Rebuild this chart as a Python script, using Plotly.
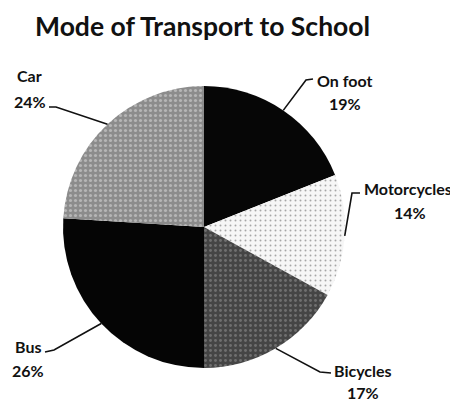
import math
import plotly.graph_objects as go

# ---- data ----
categories = ["On foot", "Motorcycles", "Bicycles", "Bus", "Car"]
values = [19, 14, 17, 26, 24]
title_text = "Mode of Transport to School"

# ---- styles ----
colors = ["#060606", "#f6f6f6", "#454545", "#050505", "#8c8c8c"]
pattern_fg = ["#060606", "#555555", "#9a9a9a", "#050505", "#e0e0e0"]
pattern_shape = ["", ".", ".", "", "."]
pattern_solidity = [0.2, 0.12, 0.25, 0.2, 0.3]
OFF = 8                      # page body margin
W, H = 458 - OFF, 402 - OFF  # figure size
CX, CY, R = 204, 227, 141    # pie centre / radius in window pixels

# label placement (window-pixel centres of name and percent lines, plus elbow points)
label_layout = {
    "On foot":     {"name": (344, 80),  "pct": (345, 103), "path": [(313, 79), (306, 80)]},
    "Motorcycles": {"name": (408, 188), "pct": (410, 212), "path": [(360, 193), (352, 193)]},
    "Bicycles":    {"name": (363, 370), "pct": (363, 392), "path": [(331, 373), (320, 372)]},
    "Bus":         {"name": (28, 346),  "pct": (28, 370),  "path": [(45, 352), (54, 350)]},
    "Car":         {"name": (29, 76),   "pct": (30, 101),  "path": [(49, 107), (56, 107)]},
}

def px(x):
    return (x - OFF) / W

def py(y):
    return 1 - (y - OFF) / H

fig = go.Figure(
    go.Pie(
        labels=categories,
        values=values,
        sort=False,
        direction="clockwise",
        rotation=0,
        marker=dict(
            colors=colors,
            line=dict(width=0),
            pattern=dict(shape=pattern_shape, fgcolor=pattern_fg, bgcolor=colors,
                         solidity=pattern_solidity, size=5, fillmode="overlay"),
        ),
        textinfo="none",
        hoverinfo="label+percent",
        showlegend=False,
        domain=dict(x=[px(CX - R), px(CX + R)], y=[py(CY + R), py(CY - R)]),
    )
)

total = sum(values)
cum = 0
shapes = []
annotations = []
lab_font = dict(family="Lato, 'DejaVu Sans', sans-serif", size=16, color="#111111")
for cat, v in zip(categories, values):
    mid = (cum + v / 2) / total * 2 * math.pi
    cum += v
    ex = CX + R * math.sin(mid)
    ey = CY - R * math.cos(mid)
    L = label_layout[cat]
    pts = L["path"] + [(ex, ey)]
    d = "M " + " L ".join(f"{px(x):.5f},{py(y):.5f}" for x, y in pts)
    shapes.append(dict(type="path", path=d, xref="paper", yref="paper",
                       line=dict(color="#111111", width=1.6)))
    nx, ny = L["name"]
    qx, qy = L["pct"]
    annotations.append(dict(text=f"<b>{cat}</b>", x=px(nx), y=py(ny), xref="paper", yref="paper",
                            showarrow=False, xanchor="center", yanchor="middle", font=lab_font))
    annotations.append(dict(text=f"<b>{round(v / total * 100)}%</b>", x=px(qx), y=py(qy),
                            xref="paper", yref="paper", showarrow=False,
                            xanchor="center", yanchor="middle", font=lab_font))

annotations.append(dict(text=f"<b>{title_text}</b>", x=px(202), y=py(26), xref="paper", yref="paper",
                        showarrow=False, xanchor="center", yanchor="middle",
                        font=dict(family="Lato, 'DejaVu Sans', sans-serif", size=26.5, color="#111111")))

fig.update_layout(
    width=W, height=H,
    margin=dict(l=0, r=0, t=0, b=0),
    paper_bgcolor="white",
    plot_bgcolor="white",
    shapes=shapes,
    annotations=annotations,
)

fig.write_html("out.html")
